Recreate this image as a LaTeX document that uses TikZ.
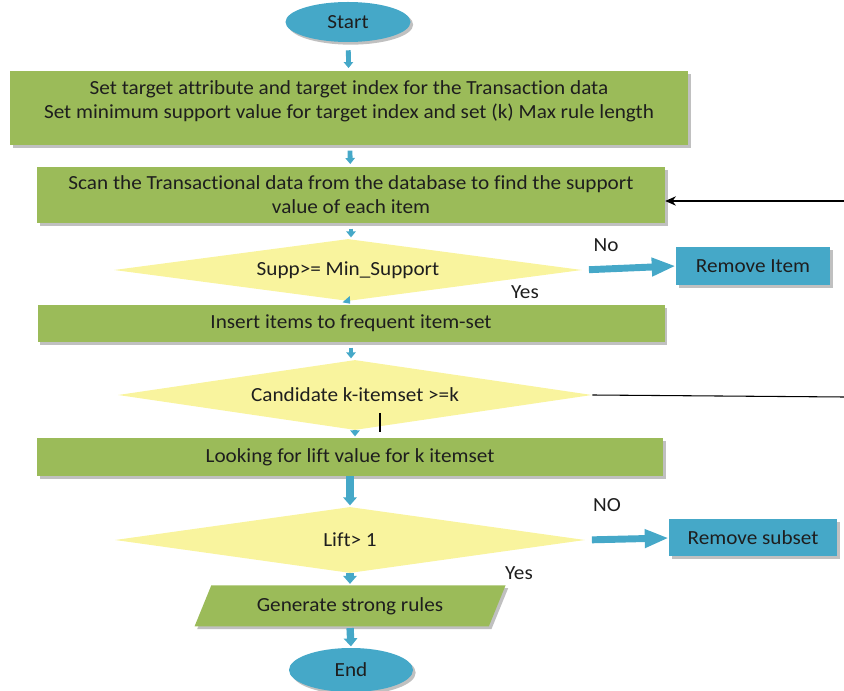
\documentclass[tikz,border=0pt]{standalone}
\usepackage{fontspec}
\setmainfont{Carlito}[FakeStretch=1.06, Ligatures=NoCommon]
\usetikzlibrary{shapes.geometric,arrows.meta,shadows}
\definecolor{boxgreen}{HTML}{9BBB59}
\definecolor{dyellow}{HTML}{F9F49E}
\definecolor{tblue}{HTML}{45A8C8}
\definecolor{txt}{HTML}{1E1E1E}
\begin{document}
\begin{tikzpicture}[x=0.75pt,y=-0.75pt,
  font=\fontsize{15}{18}\selectfont, text=txt,
  shad/.style={drop shadow={shadow xshift=2pt,shadow yshift=-2pt,fill=black!55,opacity=.45}},
  gbox/.style={fill=boxgreen, shad, align=center, inner sep=0pt},
  term/.style={ellipse, fill=tblue, shad, inner sep=0pt},
  dec/.style={diamond, fill=dyellow, inner sep=0pt, aspect=7},
  bbox/.style={fill=tblue, shad, inner sep=0pt},
  flow/.style={draw=tblue, line width=3.6pt, -{Triangle[length=4.5pt,width=7pt]}},
  flowb/.style={draw=tblue, line width=5.5pt, -{Triangle[length=6pt,width=10pt]}},
  side/.style={draw=tblue, line width=5.2pt, -{Triangle[length=18pt,width=13pt]}},
  blackline/.style={draw=black, line width=0.8pt},
  lbl/.style={inner sep=0pt}
]
\useasboundingbox (0,0) rectangle (844,691);

\node[term, minimum width=125*0.75pt, minimum height=40*0.75pt] (start) at (348,22) {Start};
\node[gbox, minimum width=678*0.75pt, minimum height=74*0.75pt,
  label={[align=center, yshift=5pt]center:Set target attribute and target index for the Transaction data\\Set minimum support value for target index and set (k) Max rule length}] (b1) at (349,108) {};
\node[gbox, minimum width=628*0.75pt, minimum height=56*0.75pt] (b2) at (351,195)
  {Scan the Transactional data from the database to find the support\\value of each item};
\node[dec, minimum width=468*0.75pt, minimum height=62*0.75pt] (d1) at (348,270) {Supp>= Min\_Support};
\node[bbox, minimum width=154*0.75pt, minimum height=38*0.75pt] (r1) at (753,266) {Remove Item};
\node[gbox, minimum width=627*0.75pt, minimum height=37*0.75pt] (b3) at (351,323.5) {Insert items to frequent item-set};
\node[dec, minimum width=474*0.75pt, minimum height=70*0.75pt] (d2) at (355,395) {Candidate k-itemset >=k};
\node[gbox, minimum width=626*0.75pt, minimum height=38*0.75pt] (b4) at (350,457) {Looking for lift value for k itemset};
\node[dec, minimum width=470*0.75pt, minimum height=66*0.75pt] (d3) at (350,540) {Lift> 1};
\node[bbox, minimum width=168*0.75pt, minimum height=37*0.75pt] (r2) at (753,538) {Remove subset};
\node[trapezium, trapezium left angle=46, trapezium right angle=134, trapezium stretches body,
  fill=boxgreen, shad, inner sep=0pt, minimum width=311*0.75pt, minimum height=41*0.75pt] (par) at (350,606) {Generate strong rules};
\node[term, minimum width=124*0.75pt, minimum height=44*0.75pt] (end) at (351,670) {End};

\node[lbl] (no1) at (606,245) {No};
\node[lbl] (yes1) at (525,292) {Yes};
\node[lbl] (no2) at (607,505) {NO};
\node[lbl] (yes2) at (519,573) {Yes};

\coordinate (in2) at (844,201);
\coordinate (out2) at (844,397);
\coordinate (tk1) at (380,413);
\coordinate (tk2) at (380,432);

\draw[flow, shorten <=6pt, shorten >=2pt] (start) -- (b1);
\draw[flow, shorten <=4pt, shorten >=2pt] (b1) -- (b2);
\draw[flow, shorten <=4pt, shorten >=1pt] (b2.south) -- (b2.south |- d1.north);
\draw[flow, shorten >=1pt] (d1.south) -- (b3.north);
\draw[flow, shorten <=4pt, shorten >=1pt] (b3.south) -- (b3.south |- d2.north);
\draw[flow, shorten >=1pt] (d2.south) -- (d2.south |- b4.north);
\draw[flowb, shorten >=1pt] (b4.south) -- (b4.south |- d3.north);
\draw[flowb, shorten >=1pt] (d3.south) -- (d3.south |- par.north);
\draw[flowb, shorten <=1pt, shorten >=1pt] (par.south) -- (end.north);

\draw[side, shorten <=5pt] (d1.east) -- (r1.west);
\draw[side, shorten <=5pt] (d3.east) -- (r2.west);

\draw[blackline, -{Stealth[length=8pt,width=7pt]}] (in2) -- (in2 -| b2.east);
\draw[blackline] (d2.east) -- (out2);
\draw[draw=black, line width=1.2pt] (tk1) -- (tk2);
\end{tikzpicture}
\end{document}
